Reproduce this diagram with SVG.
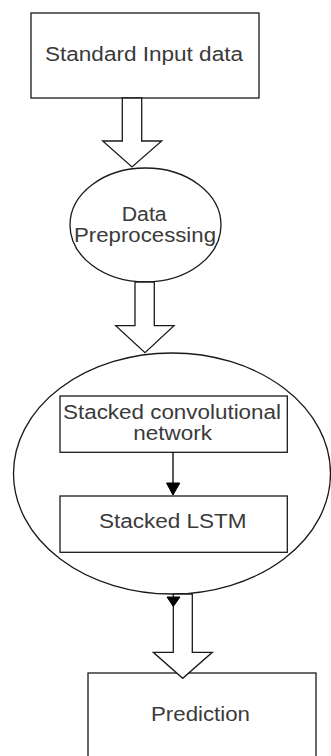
<svg xmlns="http://www.w3.org/2000/svg" width="331" height="756" viewBox="0 0 331 756">
  <style>
    .shape { fill: #ffffff; stroke: #1a1a1a; stroke-width: 1.3; }
    .label { font-family: "Liberation Sans", Arial, sans-serif; font-size: 19.5px; fill: #3a3a3a; text-anchor: middle; }
    .flow { fill: #ffffff; stroke: #1a1a1a; stroke-width: 1.3; stroke-linejoin: miter; }
    .line { stroke: #000000; stroke-width: 1.3; fill: none; }
    .head { fill: #000000; stroke: #000000; stroke-width: 1; }
  </style>
  <rect width="331" height="756" fill="#ffffff"/>

  <g id="input">
    <rect class="shape" x="31" y="13" width="228" height="85"/>
    <text class="label" x="144" y="61" textLength="198" lengthAdjust="spacingAndGlyphs">Standard Input data</text>
  </g>

  <g id="preprocessing">
    <ellipse class="shape" cx="145.5" cy="225" rx="75.5" ry="57"/>
    <text class="label" x="144.2" y="220.7" textLength="45" lengthAdjust="spacingAndGlyphs">Data</text>
    <text class="label" x="145" y="241.5" textLength="142" lengthAdjust="spacingAndGlyphs">Preprocessing</text>
  </g>

  <g id="model">
    <ellipse class="shape" cx="172" cy="473.5" rx="158.5" ry="120.5"/>
  </g>

  <g id="conv">
    <rect class="shape" x="60" y="396" width="227.3" height="56.3"/>
    <text class="label" x="172" y="419" textLength="218" lengthAdjust="spacingAndGlyphs">Stacked convolutional</text>
    <text class="label" x="172.7" y="440" textLength="78.7" lengthAdjust="spacingAndGlyphs">network</text>
  </g>

  <g id="lstm">
    <rect class="shape" x="60" y="496" width="227.3" height="56.3"/>
    <text class="label" x="172.8" y="528" textLength="147.7" lengthAdjust="spacingAndGlyphs">Stacked LSTM</text>
  </g>

  <g id="prediction">
    <rect class="shape" x="88" y="673" width="228" height="92"/>
    <text class="label" x="200.5" y="721" textLength="99" lengthAdjust="spacingAndGlyphs">Prediction</text>
  </g>

  <g id="connectors">
    <!-- hollow block arrows between stages -->
    <polygon class="flow" points="122.3,98 141.7,98 141.7,141 161.7,141 132,167 102.7,141 122.3,141"/>
    <polygon class="flow" points="135,282 154.3,282 154.3,325.7 174,325.7 145,352.7 115.7,325.7 135,325.7"/>
    <polygon class="flow" points="173.3,594 192.3,594 192.3,652.3 212.3,652.3 182.7,678.3 153.3,652.3 173.3,652.3"/>
    <!-- conv to lstm -->
    <line class="line" x1="173" y1="452.3" x2="173" y2="484"/>
    <polygon class="head" points="166.5,483 179.8,483 173,495"/>
    <!-- arrowhead below model -->
    <polygon class="head" points="167,597 180,597 173.3,606.5"/>
  </g>
</svg>
